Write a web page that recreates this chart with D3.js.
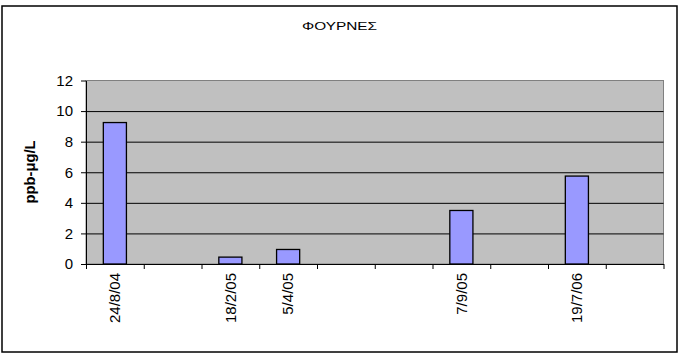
<!DOCTYPE html>
<html>
<head>
<meta charset="utf-8">
<script src="https://cdn.jsdelivr.net/npm/d3@7"></script>
<style>
  body { margin: 0; background: #fff; }
  svg { display: block; font-family: "Liberation Sans", Arial, sans-serif; }
</style>
</head>
<body>
<div id="chart"></div>
<script>
var title = "ΦΟΥΡΝΕΣ";
var yLabel = "ppb-μg/L";
var dates = ["24/8/04", "", "18/2/05", "5/4/05", "", "", "7/9/05", "", "19/7/06", ""];
var values = [9.25, null, 0.45, 0.95, null, null, 3.5, null, 5.75, null];
var yTicks = [0, 2, 4, 6, 8, 10, 12];

var width = 696, height = 354;
// plot area edges (note: "top" is a reserved window prop, so prefix them)
var pLeft = 86, pRight = 663.5, pTop = 80.5, pBottom = 264;

var svg = d3.select("#chart")
    .append("svg")
    .attr("width", width)
    .attr("height", height);

// outer chart border
svg.append("rect")
    .attr("x", 2)
    .attr("y", 6)
    .attr("width", 675)
    .attr("height", 346)
    .attr("fill", "#fff")
    .attr("stroke", "#000")
    .attr("stroke-width", 1.5);

svg.append("text")
    .attr("x", 339.5)
    .attr("y", 30)
    .attr("text-anchor", "middle")
    .attr("font-size", "10.5px")
    .attr("textLength", 75)
    .attr("lengthAdjust", "spacingAndGlyphs")
    .text(title);

var x = d3.scaleBand()
    .domain(d3.range(dates.length))
    .range([pLeft, pRight])
    .padding(0);

var xb = d3.scaleLinear()
    .domain([0, dates.length])
    .range([pLeft, pRight]);

var y = d3.scaleLinear()
    .domain([0, 12])
    .range([pBottom, pTop]);

// plot area
svg.append("rect")
    .attr("x", pLeft)
    .attr("y", pTop)
    .attr("width", pRight - pLeft)
    .attr("height", pBottom - pTop)
    .attr("fill", "#c0c0c0")
    .attr("stroke", "#808080")
    .attr("stroke-width", 1);

// gridlines
svg.append("g")
    .attr("transform", "translate(" + pLeft + ",0)")
    .call(d3.axisLeft(y).tickValues(yTicks.slice(1, -1)).tickSize(-(pRight - pLeft)).tickFormat(""))
    .call(g => g.select(".domain").remove())
    .selectAll("line")
    .attr("stroke", "#000");

// bars
var bw = x.bandwidth() / 2.5;
svg.append("g")
    .selectAll("rect")
    .data(values.map((v, i) => ({i: i, v: v})).filter(d => d.v != null))
    .enter()
    .append("rect")
    .attr("x", d => x(d.i) + (x.bandwidth() - bw) / 2)
    .attr("y", d => y(d.v))
    .attr("width", bw)
    .attr("height", d => y(0) - y(d.v))
    .attr("fill", "#9999ff")
    .attr("stroke", "#000")
    .attr("stroke-width", 1.3);

// y axis
var ya = svg.append("g")
    .attr("transform", "translate(" + pLeft + ",0)")
    .call(d3.axisLeft(y).tickValues(yTicks).tickSize(5).tickPadding(8).tickSizeOuter(0));
ya.select(".domain").attr("stroke", "#000");
ya.selectAll("text").attr("font-size", "15px").attr("fill", "#000");

// x axis boundary ticks
var xa = svg.append("g")
    .attr("transform", "translate(0," + pBottom + ")")
    .call(d3.axisBottom(xb).ticks(dates.length).tickSize(5).tickFormat("").tickSizeOuter(0));
xa.select(".domain").attr("stroke", "#000");

// x labels
var xl = svg.append("g")
    .attr("transform", "translate(0," + pBottom + ")")
    .call(d3.axisBottom(x).tickSize(0).tickFormat(i => dates[i]));
xl.select(".domain").remove();
xl.selectAll("text")
    .attr("font-size", "15px")
    .attr("fill", "#000")
    .attr("transform", "rotate(-90)")
    .attr("text-anchor", "end")
    .attr("x", -9)
    .attr("y", 0)
    .attr("dy", "0.35em");

svg.append("text")
    .attr("transform", "translate(30,172) rotate(-90)")
    .attr("text-anchor", "middle")
    .attr("dy", "0.35em")
    .attr("font-size", "14.5px")
    .attr("font-weight", "bold")
    .attr("textLength", 63)
    .attr("lengthAdjust", "spacingAndGlyphs")
    .text(yLabel);
</script>
</body>
</html>
